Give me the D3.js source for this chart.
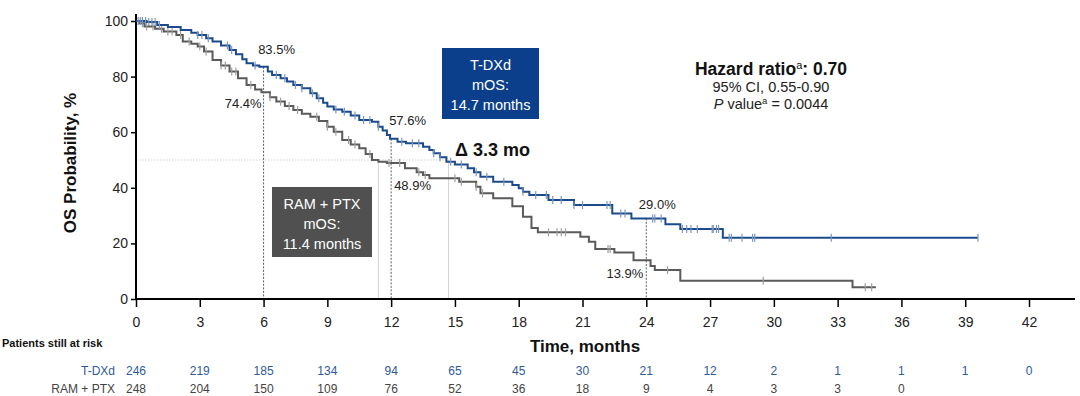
<!DOCTYPE html>
<html>
<head>
<meta charset="utf-8">
<script src="https://cdn.jsdelivr.net/npm/d3@7"></script>
<style>
  body { margin: 0; background: #fff; }
  svg { font-family: "Liberation Sans", Arial, sans-serif; }
</style>
</head>
<body>
<svg id="chart"></svg>
<script>
// Kaplan-Meier step points (months, OS %)
const tdxdTime = [0, 0.5, 1.0, 1.5, 2.1, 2.6, 2.9, 3.3, 3.6, 4.0, 4.4, 4.7, 5.0, 5.2, 5.5, 5.8,
  6.2, 6.4, 6.8, 7.1, 7.4, 7.8, 8.2, 8.5, 8.8, 9.0, 9.3, 9.7, 10.1, 10.5, 11.1, 11.4, 11.6, 11.8,
  11.95, 12.3, 12.7, 13.5, 13.8, 14.0, 14.3, 14.6, 15.0, 15.6, 15.9, 16.2, 16.8, 17.7, 18.0, 18.2,
  18.5, 19.4, 20.6, 22.4, 23.3, 24.9, 25.6, 27.6, 39.6];
const tdxdSurv = [100, 99.6, 98.6, 97.8, 96.8, 95.8, 95.0, 93.8, 92.6, 91.2, 89.6, 88.0, 86.2, 84.8, 84.0, 83.5,
  81.8, 80.6, 79.4, 78.2, 77.0, 75.8, 74.0, 72.2, 70.6, 69.2, 68.2, 67.4, 66.0, 64.4, 63.8, 62.0, 60.6, 59.0,
  57.6, 56.6, 56.0, 54.8, 53.6, 52.4, 51.0, 49.4, 48.4, 47.0, 45.6, 44.0, 42.2, 41.0, 39.8, 38.6,
  37.4, 35.6, 33.8, 30.8, 29.0, 26.9, 25.2, 22.0, 22.0];
const tdxdCensor = [0.1, 0.2, 0.3, 0.45, 0.6, 0.75, 0.9, 1.1, 2.9, 3.1, 3.4, 4.3, 4.5, 5.6, 6.6, 7.0,
  7.5, 7.8, 8.3, 8.6, 9.4, 9.8, 10.3, 10.7, 11.0, 11.4, 12.5, 13.0, 13.3, 14.0, 14.3, 14.8, 15.3,
  16.0, 16.5, 17.3, 18.2, 18.8, 19.3, 19.6, 20.0, 20.6, 21.0, 22.15, 22.3, 22.8, 23.0, 24.3, 24.4,
  24.7, 25.7, 25.9, 26.1, 26.4, 27.1, 27.15, 27.3, 27.4, 27.9, 28.0, 28.5, 29.0, 29.1, 32.7, 39.6];

const ramTime = [0, 0.15, 0.4, 0.9, 1.3, 1.9, 2.2, 2.6, 2.9, 3.2, 3.6, 4.0, 4.4, 4.8, 5.2, 5.6, 5.9,
  6.3, 6.6, 7.0, 7.4, 7.8, 8.2, 8.6, 9.0, 9.3, 9.7, 10.1, 10.5, 10.8, 11.1, 11.4, 11.8, 12.65, 13.2,
  13.5, 13.8, 15.2, 16.0, 16.2, 16.8, 17.7, 18.2, 18.6, 18.9, 20.9, 21.3, 21.6, 22.5, 23.4, 24.2,
  24.4, 25.6, 33.7, 34.8];
const ramSurv = [100, 99.2, 98.0, 97.2, 96.2, 95.0, 92.6, 91.8, 90.8, 89.0, 86.0, 84.0, 81.8, 79.4, 77.0, 75.4, 74.4,
  72.6, 71.0, 69.4, 68.0, 66.6, 65.6, 64.0, 62.0, 60.2, 57.2, 55.6, 54.2, 52.2, 50.0, 49.4, 48.9, 47.0, 45.6,
  44.6, 43.4, 42.2, 40.4, 38.0, 36.2, 33.4, 29.6, 25.5, 24.0, 22.4, 20.6, 18.0, 16.7, 13.9, 11.9,
  10.4, 6.6, 4.2, 4.2];
const ramCensor = [0.3, 0.5, 0.8, 1.2, 1.5, 1.7, 2.1, 2.5, 3.0, 3.3, 4.0, 4.2, 4.5, 4.7, 5.4, 6.3,
  6.8, 7.2, 7.6, 8.5, 9.0, 9.4, 10.0, 10.3, 11.0, 11.9, 12.4, 13.3, 13.6, 15.0, 15.3, 16.0, 16.3,
  19.4, 19.8, 20.0, 20.2, 22.2, 22.3, 25.0, 29.5, 34.3, 34.6];

// Patients at risk table
const riskTimes = [0, 3, 6, 9, 12, 15, 18, 21, 24, 27, 30, 33, 36, 39, 42];
const tdxdRisk = [246, 219, 185, 134, 94, 65, 45, 30, 21, 12, 2, 1, 1, 1, 0];
const ramRisk = [248, 204, 150, 109, 76, 52, 36, 18, 9, 4, 3, 3, 0];

// Landmark annotations
const landmarkTimes = [6, 12, 24];
const tdxdLandmarks = [83.5, 57.6, 29.0];
const ramLandmarks = [74.4, 48.9, 13.9];
const medians = [11.4, 14.7];

const width = 1080, height = 396;
const blue = "#1b4b8c", blueTick = "#7d97bd";
const grey = "#5a5a5a", greyTick = "#a0a0a0";

const svg = d3.select("#chart").attr("width", width).attr("height", height);

const x = d3.scaleLinear().domain([0, 42]).range([136, 1029]);
const y = d3.scaleLinear().domain([0, 100]).range([299, 21]);

// step lookup
function survAt(times, surv, t) {
  let v = surv[0];
  for (let i = 0; i < times.length; i++) { if (times[i] <= t) v = surv[i]; }
  return v;
}

// 50% reference lines
svg.append("line")
  .attr("x1", x(0)).attr("x2", x(14.7)).attr("y1", y(50)).attr("y2", y(50))
  .attr("stroke", "#c8c8c8").attr("stroke-width", 0.8).attr("stroke-dasharray", "1.5,1.5");
svg.selectAll("line.med").data(medians).join("line")
  .attr("class", "med")
  .attr("x1", d => x(d)).attr("x2", d => x(d)).attr("y1", y(50)).attr("y2", y(0))
  .attr("stroke", "#c8c8c8").attr("stroke-width", 0.8);

// landmark dotted verticals
svg.selectAll("line.lm").data(landmarkTimes).join("line")
  .attr("class", "lm")
  .attr("x1", d => x(d)).attr("x2", d => x(d))
  .attr("y1", (d, i) => y(tdxdLandmarks[i])).attr("y2", y(0))
  .attr("stroke", "#333").attr("stroke-width", 0.8).attr("stroke-dasharray", "2,1.5");

// axes
const yAxis = d3.axisLeft(y).tickValues([0, 20, 40, 60, 80, 100]).tickSize(5).tickPadding(3);
const gy = svg.append("g").attr("transform", `translate(${x(0)},0)`).call(yAxis);
gy.select(".domain").attr("d", `M0,${y(0)}V14`).attr("stroke-width", 2);
gy.selectAll(".tick line").attr("stroke-width", 1.5);

const xAxis = d3.axisBottom(x).tickValues(riskTimes).tickSize(8).tickPadding(10);
const gx = svg.append("g").attr("transform", `translate(0,${y(0)})`).call(xAxis);
gx.select(".domain").attr("d", `M${x(0)},0H1075`).attr("stroke-width", 2);
gx.selectAll(".tick line").attr("stroke-width", 1.5);

svg.selectAll(".tick text").attr("font-size", 14).attr("fill", "#222")
  .attr("font-family", "Liberation Sans, Arial, sans-serif");

// curves
const line = d3.line().x(d => x(d[0])).y(d => y(d[1])).curve(d3.curveStepAfter);
const arms = [
  { times: ramTime, surv: ramSurv, cens: ramCensor, color: grey, tick: greyTick },
  { times: tdxdTime, surv: tdxdSurv, cens: tdxdCensor, color: blue, tick: blueTick }
];
arms.forEach(a => {
  svg.append("path")
    .datum(a.times.map((t, i) => [t, a.surv[i]]))
    .attr("d", line).attr("fill", "none")
    .attr("stroke", a.color).attr("stroke-width", 2);
  svg.append("g").selectAll("line").data(a.cens).join("line")
    .attr("x1", d => x(d)).attr("x2", d => x(d))
    .attr("y1", d => y(survAt(a.times, a.surv, d)) - 4)
    .attr("y2", d => y(survAt(a.times, a.surv, d)) + 4)
    .attr("stroke", a.tick).attr("stroke-width", 1.2);
});

// landmark labels
const tdxdOffsets = [[13, -13, "middle"], [-2, -14, "start"], [11, -9, "middle"]];
const ramOffsets = [[-2, 16, "end"], [3, 27, "start"], [-3, 18, "end"]];
function landmarkLabels(vals, offs) {
  vals.forEach((v, i) => {
    const t = landmarkTimes[i], o = offs[i];
    svg.append("text")
      .attr("x", x(t) + o[0]).attr("y", y(v) + o[1])
      .attr("text-anchor", o[2]).attr("font-size", 13).attr("fill", "#222")
      .text(v.toFixed(1) + "%");
  });
}
landmarkLabels(tdxdLandmarks, tdxdOffsets);
landmarkLabels(ramLandmarks, ramOffsets);

// median boxes
function box(x0, y0, w, h, fill, lines) {
  svg.append("rect").attr("x", x0).attr("y", y0).attr("width", w).attr("height", h).attr("fill", fill);
  lines.forEach((s, i) => {
    svg.append("text").attr("x", x0 + w / 2).attr("y", y0 + 22 + i * 20)
      .attr("text-anchor", "middle").attr("font-size", 14.5).attr("fill", "#fff").text(s);
  });
}
box(442, 48, 97, 71, "#0b3f8c", ["T-DXd", "mOS:", "14.7 months"]);
box(272, 187, 100, 70, "#505050", ["RAM + PTX", "mOS:", "11.4 months"]);

svg.append("text").attr("x", 455).attr("y", 156).attr("font-size", 18)
  .attr("font-weight", "bold").attr("fill", "#111").text("Δ 3.3 mo");

// hazard ratio block
const hr = svg.append("text").attr("x", 771).attr("y", 75).attr("text-anchor", "middle")
  .attr("font-size", 17.5).attr("font-weight", "bold").attr("fill", "#111");
hr.append("tspan").text("Hazard ratio");
hr.append("tspan").attr("font-size", 11).attr("font-weight", "normal").attr("dy", -6).text("a");
hr.append("tspan").attr("dy", 6).text(": 0.70");
svg.append("text").attr("x", 771).attr("y", 92).attr("text-anchor", "middle")
  .attr("font-size", 14.5).attr("fill", "#222").text("95% CI, 0.55-0.90");
const pv = svg.append("text").attr("x", 771).attr("y", 109).attr("text-anchor", "middle")
  .attr("font-size", 14.5).attr("fill", "#222");
pv.append("tspan").attr("font-style", "italic").text("P");
pv.append("tspan").text(" value");
pv.append("tspan").attr("font-size", 9.5).attr("dy", -5).text("a");
pv.append("tspan").attr("dy", 5).text(" = 0.0044");

// axis titles
svg.append("text").attr("transform", `translate(76,163) rotate(-90)`)
  .attr("text-anchor", "middle").attr("font-size", 17).attr("font-weight", "bold")
  .attr("fill", "#111").text("OS Probability, %");
svg.append("text").attr("x", 585).attr("y", 352).attr("text-anchor", "middle")
  .attr("font-size", 17).attr("font-weight", "bold").attr("fill", "#111").text("Time, months");

// risk table
svg.append("text").attr("x", 2).attr("y", 347).attr("font-size", 11)
  .attr("font-weight", "bold").attr("fill", "#111").text("Patients still at risk");
const rows = [
  { name: "T-DXd", vals: tdxdRisk, color: "#2d5b9a", yy: 375 },
  { name: "RAM + PTX", vals: ramRisk, color: "#444", yy: 393 }
];
rows.forEach(r => {
  svg.append("text").attr("x", 115).attr("y", r.yy).attr("text-anchor", "end")
    .attr("font-size", 12).attr("fill", r.color).text(r.name);
  svg.append("g").selectAll("text").data(r.vals).join("text")
    .attr("x", (d, i) => x(riskTimes[i])).attr("y", r.yy)
    .attr("text-anchor", "middle").attr("font-size", 12).attr("fill", r.color)
    .text(d => d);
});
</script>
</body>
</html>
